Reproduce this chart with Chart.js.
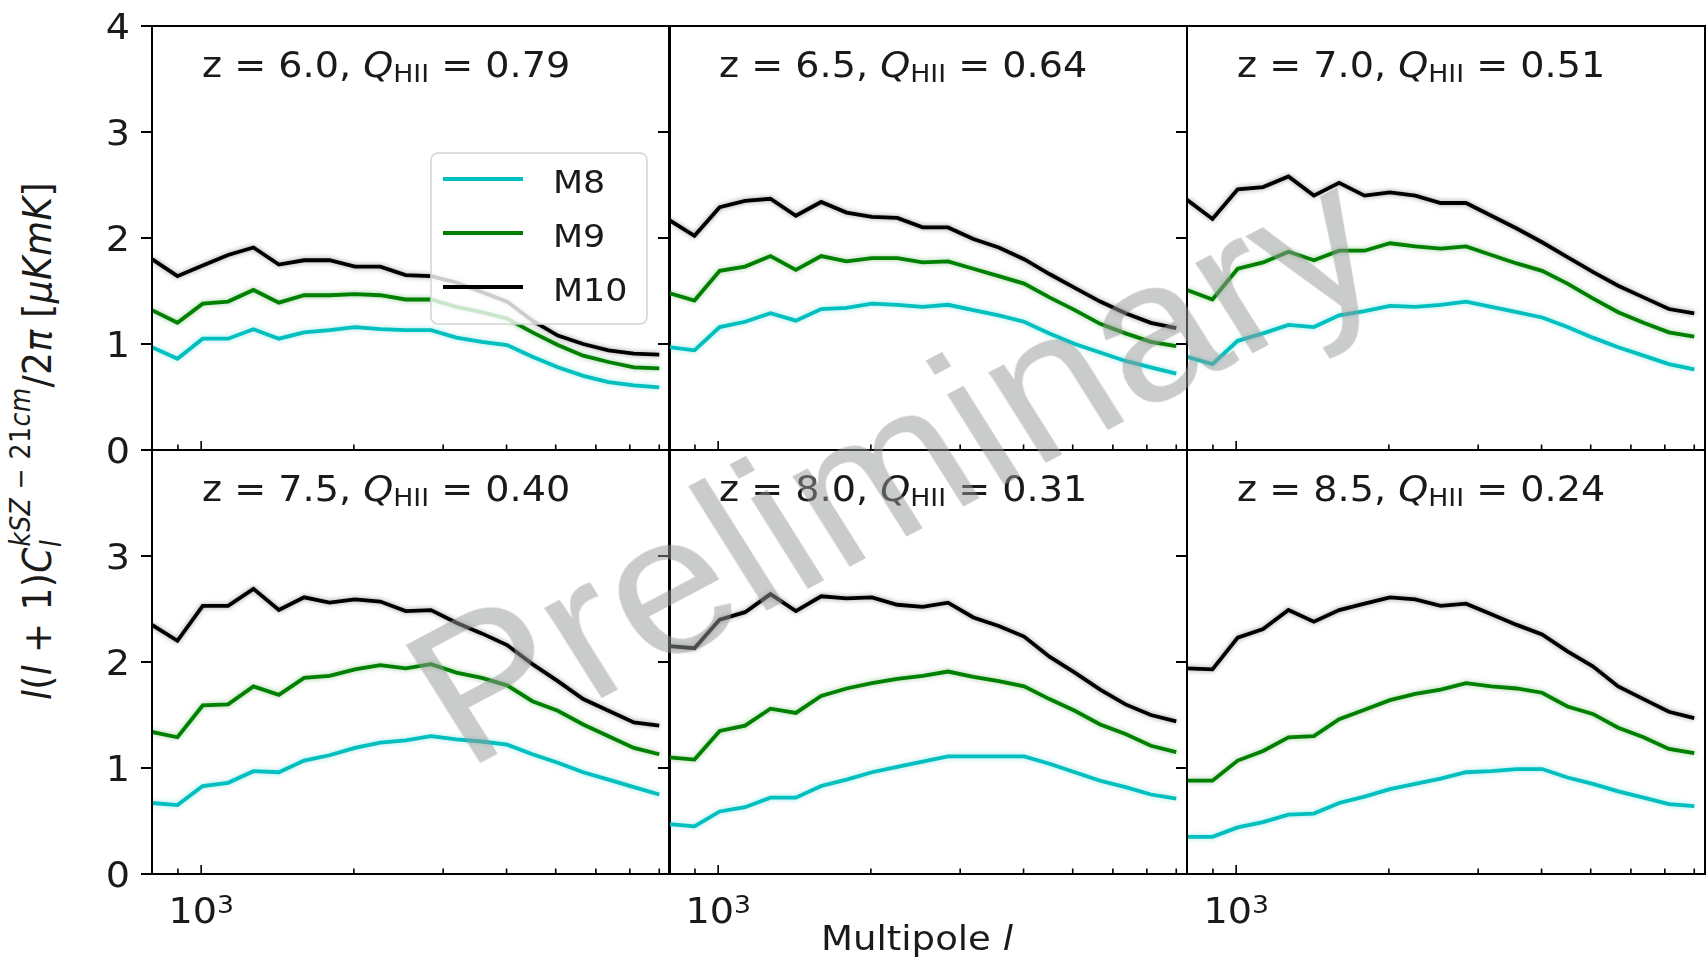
<!DOCTYPE html>
<html>
<head>
<meta charset="utf-8">
<script src="https://cdn.jsdelivr.net/npm/chart.js@4"></script>
<style>
  body { margin: 0; background: #fff; }
  #fig { position: relative; width: 1708px; height: 961px; background: #fff; overflow: hidden; }
  #fig canvas { position: absolute; }
  .txt { position: absolute; white-space: nowrap; line-height: 1; font-family: "DejaVu Sans"; color: #1a1a1a; }
  #ylab { left: 38px; top: 441px; font-size: 36px; letter-spacing: 0.4px; transform: translate(-50%, -50%) scaleX(1.09) rotate(-90deg); }
  #ylab i { font-style: italic; }
  #ylab .sub { font-size: 70%; position: relative; top: 0.35em; }
  #ylab .sup { font-size: 70%; position: relative; top: -0.75em; margin-left: -0.278em; }
  #mark { left: 893px; top: 466px; font-family: "Liberation Sans"; font-size: 197px; color: rgba(150, 154, 152, 0.5);
          transform: translate(-50%, -50%) scaleX(1.09) rotate(-30deg); pointer-events: none; }
</style>
</head>
<body>
<div id="fig">
  <div class="txt" id="ylab"><i>l</i>(<i>l</i> + 1)<i>C</i><span class="sub"><i>l</i></span><span class="sup"><i>kSZ</i> − 21<i>cm</i></span>/2<i>π</i> [<i>μKmK</i>]</div>
</div>
<script>
// multipole bins (log spaced)
const ells = [800, 898, 1007, 1130, 1268, 1423, 1596, 1791, 2010, 2255, 2530, 2839, 3185, 3574, 4010, 4499, 5048, 5664, 6355, 7130, 8000];

const redshifts = ["6.0", "6.5", "7.0", "7.5", "8.0", "8.5"];
const qHII = ["0.79", "0.64", "0.51", "0.40", "0.31", "0.24"];
const models = ["M8", "M9", "M10"];
const colors = ["#00bfbf", "#008000", "#000000"];
const halos = ["rgba(0,191,191,0.4)", "rgba(0,128,0,0.4)", "rgba(0,0,0,0.4)"];

// cross spectra, one array per model and redshift
const m8_z60 = [0.97, 0.86, 1.05, 1.05, 1.14, 1.05, 1.11, 1.13, 1.16, 1.14, 1.13, 1.13, 1.06, 1.02, 0.99, 0.88, 0.78, 0.70, 0.64, 0.61, 0.59];
const m9_z60 = [1.32, 1.20, 1.38, 1.40, 1.51, 1.39, 1.46, 1.46, 1.47, 1.46, 1.42, 1.42, 1.35, 1.30, 1.24, 1.11, 0.99, 0.89, 0.83, 0.78, 0.77];
const m10_z60 = [1.80, 1.64, 1.74, 1.84, 1.91, 1.75, 1.79, 1.79, 1.73, 1.73, 1.65, 1.64, 1.58, 1.49, 1.40, 1.22, 1.08, 1.00, 0.94, 0.91, 0.90];

const m8_z65 = [0.97, 0.94, 1.16, 1.21, 1.29, 1.22, 1.33, 1.34, 1.38, 1.37, 1.35, 1.37, 1.32, 1.27, 1.21, 1.10, 1.00, 0.92, 0.84, 0.78, 0.72];
const m9_z65 = [1.48, 1.41, 1.69, 1.73, 1.83, 1.70, 1.83, 1.78, 1.81, 1.81, 1.77, 1.78, 1.71, 1.64, 1.57, 1.44, 1.32, 1.19, 1.10, 1.02, 0.98];
const m10_z65 = [2.17, 2.02, 2.29, 2.35, 2.37, 2.21, 2.34, 2.24, 2.20, 2.19, 2.10, 2.10, 1.99, 1.91, 1.80, 1.66, 1.53, 1.40, 1.29, 1.20, 1.15];

const m8_z70 = [0.88, 0.81, 1.03, 1.10, 1.18, 1.16, 1.27, 1.31, 1.36, 1.35, 1.37, 1.40, 1.35, 1.30, 1.25, 1.16, 1.06, 0.97, 0.89, 0.81, 0.76];
const m9_z70 = [1.51, 1.42, 1.71, 1.77, 1.87, 1.79, 1.88, 1.88, 1.95, 1.92, 1.90, 1.92, 1.84, 1.76, 1.69, 1.57, 1.43, 1.30, 1.20, 1.11, 1.07];
const m10_z70 = [2.36, 2.18, 2.46, 2.48, 2.58, 2.40, 2.52, 2.40, 2.43, 2.40, 2.33, 2.33, 2.21, 2.09, 1.96, 1.82, 1.68, 1.55, 1.44, 1.33, 1.29];

const m8_z75 = [0.67, 0.65, 0.83, 0.86, 0.97, 0.96, 1.07, 1.12, 1.19, 1.24, 1.26, 1.30, 1.27, 1.25, 1.22, 1.13, 1.05, 0.96, 0.89, 0.82, 0.75];
const m9_z75 = [1.34, 1.29, 1.59, 1.60, 1.77, 1.69, 1.85, 1.87, 1.93, 1.97, 1.94, 1.98, 1.90, 1.85, 1.78, 1.63, 1.54, 1.41, 1.30, 1.19, 1.13];
const m10_z75 = [2.35, 2.20, 2.53, 2.53, 2.69, 2.49, 2.61, 2.56, 2.59, 2.57, 2.48, 2.49, 2.37, 2.27, 2.16, 1.98, 1.82, 1.65, 1.54, 1.43, 1.40];

const m8_z80 = [0.47, 0.45, 0.59, 0.63, 0.72, 0.72, 0.83, 0.89, 0.96, 1.01, 1.06, 1.11, 1.11, 1.11, 1.11, 1.04, 0.96, 0.88, 0.82, 0.75, 0.71];
const m9_z80 = [1.10, 1.08, 1.35, 1.40, 1.56, 1.52, 1.68, 1.75, 1.80, 1.84, 1.87, 1.91, 1.86, 1.82, 1.77, 1.65, 1.54, 1.41, 1.32, 1.21, 1.15];
const m10_z80 = [2.15, 2.13, 2.40, 2.47, 2.64, 2.48, 2.62, 2.60, 2.61, 2.54, 2.52, 2.56, 2.42, 2.34, 2.24, 2.05, 1.90, 1.74, 1.60, 1.50, 1.44];

const m8_z85 = [0.35, 0.35, 0.44, 0.49, 0.56, 0.57, 0.67, 0.73, 0.80, 0.85, 0.90, 0.96, 0.97, 0.99, 0.99, 0.91, 0.85, 0.78, 0.72, 0.66, 0.64];
const m9_z85 = [0.88, 0.88, 1.07, 1.16, 1.29, 1.30, 1.46, 1.55, 1.64, 1.70, 1.74, 1.80, 1.77, 1.75, 1.71, 1.58, 1.51, 1.38, 1.29, 1.18, 1.14];
const m10_z85 = [1.94, 1.93, 2.23, 2.31, 2.49, 2.38, 2.49, 2.55, 2.61, 2.59, 2.53, 2.55, 2.45, 2.35, 2.26, 2.10, 1.96, 1.77, 1.65, 1.53, 1.47];

const yTicks = [0, 1, 2, 3, 4];
const xTicks = [900, 1000, 2000, 3000, 4000, 5000, 6000, 7000, 8000];

const spectra = [
    [m8_z60, m9_z60, m10_z60],
    [m8_z65, m9_z65, m10_z65],
    [m8_z70, m9_z70, m10_z70],
    [m8_z75, m9_z75, m10_z75],
    [m8_z80, m9_z80, m10_z80],
    [m8_z85, m9_z85, m10_z85],
];

// panel grid geometry
const colX = [152, 669, 1187];
const rowY = [26, 450];
const panelW = 518, panelH = 424;
const pad = { left: 60, right: 10, top: 20, bottom: 87 };
const SX = 1.09; // text is a little wider than tall
const FONT = '"DejaVu Sans"';

const fig = document.getElementById("fig");

// draw a run of text pieces [{t, size, italic, dy}]
function drawRuns(ctx, runs, x, y, align) {
    let w = 0;
    runs.forEach((r) => {
        ctx.font = (r.italic ? "italic " : "") + r.size + "px " + FONT;
        r.w = ctx.measureText(r.t).width;
        w += r.w;
    });
    ctx.save();
    ctx.translate(x, y);
    ctx.scale(SX, 1);
    ctx.textAlign = "left";
    ctx.textBaseline = "alphabetic";
    let cx = align === "center" ? -w / 2 : align === "right" ? -w : 0;
    runs.forEach((r) => {
        ctx.font = (r.italic ? "italic " : "") + r.size + "px " + FONT;
        ctx.fillText(r.t, cx, r.dy || 0);
        cx += r.w;
    });
    ctx.restore();
}

function makePlugin(idx) {
    const col = idx % 3, row = Math.floor(idx / 3);
    return {
        id: "panel" + idx,
        beforeDatasetDraw(chart, args) {
            const ctx = chart.ctx;
            ctx.save();
            ctx.shadowColor = halos[args.index];
            ctx.shadowBlur = 5;
        },
        afterDatasetDraw(chart) {
            chart.ctx.restore();
        },
        afterDatasetsDraw(chart) {
            if (idx !== 0) return;
            // legend box in the first panel
            const ctx = chart.ctx;
            const a = chart.chartArea;
            const bx = a.left + 279, by = a.top + 127;
            ctx.save();
            ctx.beginPath();
            ctx.roundRect(bx, by, 216, 171, 7);
            ctx.fillStyle = "rgba(255,255,255,0.8)";
            ctx.fill();
            ctx.strokeStyle = "#d4d4d4";
            ctx.lineWidth = 1.5;
            ctx.stroke();
            chart.data.datasets.forEach((ds, i) => {
                const ly = by + 26 + i * 54;
                ctx.beginPath();
                ctx.moveTo(bx + 12, ly);
                ctx.lineTo(bx + 92, ly);
                ctx.strokeStyle = ds.borderColor;
                ctx.lineWidth = 3.8;
                ctx.stroke();
                ctx.fillStyle = "#1a1a1a";
                drawRuns(ctx, [{ t: ds.label, size: 32 }], bx + 122, ly + 14, "left");
            });
            ctx.restore();
        },
        afterDraw(chart) {
            const ctx = chart.ctx;
            const a = chart.chartArea;
            const xs = chart.scales.x, ys = chart.scales.y;
            ctx.save();
            ctx.strokeStyle = "#000";
            ctx.fillStyle = "#1a1a1a";

            // y ticks point outward
            ctx.lineWidth = 2;
            yTicks.forEach((v) => {
                const y = ys.getPixelForValue(v);
                ctx.beginPath();
                ctx.moveTo(a.left - 11, y);
                ctx.lineTo(a.left, y);
                ctx.stroke();
                if (col === 0 && !(row === 1 && v === 4)) {
                    drawRuns(ctx, [{ t: String(v), size: 35 }], a.left - 22, y + 12.8, "right");
                }
            });

            // x ticks point inward
            ctx.lineWidth = 1.6;
            xTicks.forEach((v) => {
                const x = xs.getPixelForValue(v);
                ctx.beginPath();
                ctx.moveTo(x, a.bottom);
                ctx.lineTo(x, a.bottom - (v === 1000 ? 9 : 5.5));
                ctx.stroke();
            });
            if (row === 1) {
                const x = xs.getPixelForValue(1000);
                drawRuns(ctx, [{ t: "10", size: 35 }, { t: "3", size: 24.5, dy: -10 }], x, a.bottom + 49, "center");
            }

            // frame
            ctx.lineWidth = 2;
            ctx.strokeRect(a.left, a.top, a.right - a.left, a.bottom - a.top);

            // panel title
            drawRuns(ctx, [
                { t: "z = " + redshifts[idx] + ", ", size: 35 },
                { t: "Q", size: 35, italic: true },
                { t: "HII", size: 24.5, dy: 5 },
                { t: " = " + qHII[idx], size: 35 },
            ], a.left + 50, a.top + 51, "left");

            // shared x label under the middle column
            if (idx === 4) {
                drawRuns(ctx, [{ t: "Multipole ", size: 34 }, { t: "l", size: 34, italic: true }],
                    a.left + 248, a.bottom + 76, "center");
            }
            ctx.restore();
        },
    };
}

spectra.forEach((set, idx) => {
    const col = idx % 3, row = Math.floor(idx / 3);
    const cv = document.createElement("canvas");
    cv.width = panelW + pad.left + pad.right;
    cv.height = panelH + pad.top + pad.bottom;
    cv.style.left = colX[col] - pad.left + "px";
    cv.style.top = rowY[row] - pad.top + "px";
    fig.appendChild(cv);

    new Chart(cv.getContext("2d"), {
        type: "line",
        data: {
            datasets: set.map((vals, i) => ({
                label: models[i],
                data: ells.map((l, k) => ({ x: l, y: vals[k] })),
                borderColor: colors[i],
                borderWidth: 3.8,
                pointRadius: 0,
                tension: 0,
                fill: false,
            })),
        },
        options: {
            responsive: false,
            animation: false,
            events: [],
            layout: { padding: pad },
            plugins: { legend: { display: false }, tooltip: { enabled: false } },
            scales: {
                x: { type: "logarithmic", min: 800, max: 8400, display: false },
                y: { type: "linear", min: 0, max: 4, display: false },
            },
        },
        plugins: [makePlugin(idx)],
    });
});

// watermark on top of everything
const mark = document.createElement("div");
mark.className = "txt";
mark.id = "mark";
mark.textContent = "Preliminary";
fig.appendChild(mark);
</script>
</body>
</html>
